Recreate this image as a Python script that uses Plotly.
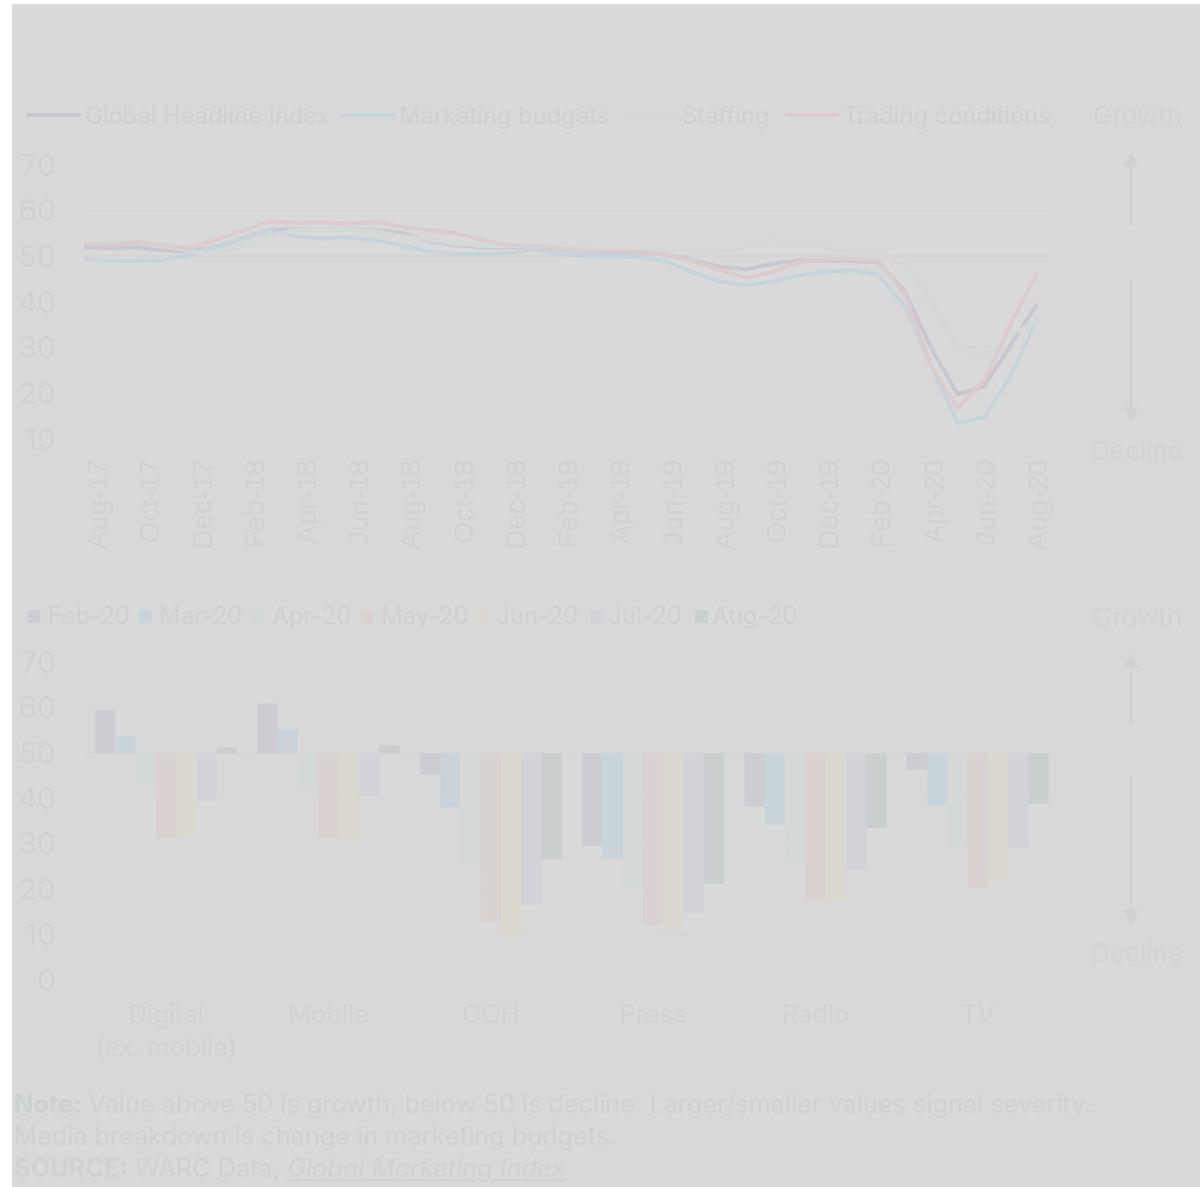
import plotly.graph_objects as go

W, H = 1200, 1187

# ---------------- data ----------------
tick_labels = ["Aug-17", "Oct-17", "Dec-17", "Feb-18", "Apr-18", "Jun-18", "Aug-18",
               "Oct-18", "Dec-18", "Feb-19", "Apr-19", "Jun-19", "Aug-19", "Oct-19",
               "Dec-19", "Feb-20", "Apr-20", "Jun-20", "Aug-20"]

global_idx = [52.0, 51.8, 52.0, 51.2, 51.1, 52.0, 53.9, 55.8, 56.0, 56.0,
              56.0, 55.8, 55.1, 53.3, 52.5, 52.0, 52.0, 52.2, 51.5, 50.9,
              50.4, 50.9, 50.4, 49.1, 47.8, 47.1, 48.4, 49.1, 49.1, 49.0,
              48.7, 42.4, 30.0, 19.8, 21.5, 30.4, 39.5]
budgets = [49.4, 48.9, 49.0, 49.1, 50.4, 52.0, 53.8, 55.7, 54.4, 53.9,
           54.1, 53.6, 52.3, 51.1, 50.5, 50.4, 50.6, 51.6, 50.4, 50.1,
           50.0, 49.9, 48.9, 46.5, 44.5, 43.6, 44.5, 45.8, 46.6, 46.9,
           46.0, 39.1, 26.0, 13.5, 14.7, 23.7, 36.2]
staffing = [53.3, 53.6, 53.3, 52.2, 51.1, 50.7, 52.2, 54.4, 55.8, 55.8,
            55.8, 55.5, 54.4, 53.6, 52.8, 52.3, 52.2, 52.4, 52.1, 51.9,
            51.5, 51.8, 51.7, 50.9, 51.1, 52.0, 53.8, 52.7, 51.8, 51.1,
            51.1, 48.2, 40.5, 29.6, 27.5, 32.7, 35.8]
trading = [52.8, 52.5, 53.0, 52.5, 51.7, 53.6, 55.5, 57.6, 57.3, 57.4,
           57.1, 57.5, 56.5, 55.8, 55.1, 53.6, 52.5, 52.3, 51.6, 51.2,
           51.1, 50.9, 50.4, 48.9, 47.1, 45.3, 46.5, 48.7, 49.3, 49.4,
           49.1, 41.6, 26.0, 16.7, 22.7, 35.1, 46.4]

line_names = ["Global Headline Index", "Marketing budgets", "Staffing", "Trading conditions"]

media = ["Digital<br>(ex. mobile)", "Mobile", "OOH", "Press", "Radio", "TV"]
bar_names = ["Feb-20", "Mar-20", "Apr-20", "May-20", "Jun-20", "Jul-20", "Aug-20"]
feb20 = [59.6, 61.0, 45.3, 29.6, 38.2, 46.4]
mar20 = [53.8, 55.2, 38.0, 26.8, 34.3, 38.4]
apr20 = [42.8, 42.5, 25.3, 20.6, 25.9, 29.1]
may20 = [31.3, 31.3, 13.0, 12.1, 17.5, 20.5]
jun20 = [31.6, 31.2, 9.6, 10.9, 17.7, 22.1]
jul20 = [39.5, 40.6, 16.6, 14.9, 24.5, 29.1]
aug20 = [51.3, 51.8, 26.6, 21.3, 33.5, 38.9]

# ---------------- styles ----------------
BG = "#d9d9d9"
line_colors = ["#c8c7d0", "#c6d4da", "#d4d8d6", "#dacbcd"]
bar_colors = ["#cdccd3", "#c9d4da", "#d4d8d6", "#d9d0d0", "#dad8cf", "#d2d3d9", "#c9cfcf"]
GRID = "#d5d5d5"
TICK = "#d1d1d2"
FONT = "Inter"


def X(px):
    return px / W


def Y(py):
    return 1 - py / H


fig = go.Figure()

# ---------------- top: line chart ----------------
months_idx = list(range(len(global_idx)))
for name, vals, col in zip(line_names, [global_idx, budgets, staffing, trading], line_colors):
    fig.add_trace(go.Scatter(x=months_idx, y=vals, mode="lines", name=name,
                             line=dict(color=col, width=4), showlegend=False,
                             xaxis="x", yaxis="y"))

# ---------------- bottom: bar chart ----------------
for name, vals, col in zip(bar_names, [feb20, mar20, apr20, may20, jun20, jul20, aug20], bar_colors):
    fig.add_trace(go.Bar(x=media, y=[v - 50 for v in vals], base=50, name=name,
                         marker=dict(color=col, line=dict(width=0)), showlegend=False,
                         xaxis="x2", yaxis="y2"))

px_per_month = 26.47
top_left, top_right = 84, 1051
tickvals = [(98 - top_left) / px_per_month + k * (52.22 / px_per_month) for k in range(len(tick_labels))]

fig.update_layout(
    width=W, height=H, autosize=False,
    margin=dict(l=0, r=0, t=0, b=0, pad=0, autoexpand=False),
    paper_bgcolor=BG, plot_bgcolor=BG,
    barmode="group", bargap=0.125, bargroupgap=0,
    font=dict(family=FONT, color="#cfcfd4"),
    xaxis=dict(domain=[X(top_left), X(top_right)],
               range=[0, (top_right - top_left) / px_per_month],
               tickvals=tickvals, ticktext=tick_labels, tickangle=-90,
               tickfont=dict(family="Liberation Sans", size=28, color=TICK),
               showgrid=False, zeroline=False, showline=False, ticks="",
               ticklabelstandoff=14, anchor="y", automargin=False),
    yaxis=dict(domain=[Y(439), Y(165)], range=[10, 70], tickvals=[10, 20, 30, 40, 50, 60, 70],
               tickfont=dict(family=FONT, size=30, color=TICK),
               showgrid=True, gridcolor=GRID, gridwidth=1, zeroline=False, showline=False,
               ticks="", ticklabelstandoff=27, anchor="x", automargin=False),
    xaxis2=dict(domain=[X(85), X(1059)], range=[-0.5, 5.5],
                tickfont=dict(family=FONT, size=25.5, color="#d2d2d5"),
                showgrid=False, zeroline=False, showline=False, ticks="",
                ticklabelstandoff=16, anchor="y2", automargin=False),
    yaxis2=dict(domain=[Y(980), Y(662.5)], range=[0, 70], tickvals=[0, 10, 20, 30, 40, 50, 60, 70],
                tickfont=dict(family=FONT, size=30, color=TICK),
                showgrid=True, gridcolor=GRID, gridwidth=1, zeroline=False, showline=False,
                ticks="", ticklabelstandoff=28, anchor="x2", automargin=False),
)

shapes = []
# white page edges outside the grey veil
shapes.append(dict(type="rect", xref="paper", yref="paper", x0=-0.01, x1=X(12), y0=-0.01, y1=1.01,
                   fillcolor="white", line=dict(width=0), layer="below"))
shapes.append(dict(type="rect", xref="paper", yref="paper", x0=-0.01, x1=1.01, y0=Y(4), y1=1.01,
                   fillcolor="white", line=dict(width=0), layer="below"))
# 50 reference lines
shapes.append(dict(type="line", xref="x domain", yref="y", x0=0, x1=1, y0=50, y1=50,
                   line=dict(color="#d0d0d0", width=2), layer="below"))
shapes.append(dict(type="line", xref="x2 domain", yref="y2", x0=0, x1=1, y0=50, y1=50,
                   line=dict(color="#d3d3d3", width=1.5), layer="below"))

ARROW = "#d1d1d1"


def arrow(xc, tip, base, shaft_end):
    s = []
    s.append(dict(type="line", xref="paper", yref="paper", x0=X(xc), x1=X(xc),
                  y0=Y(base), y1=Y(shaft_end), line=dict(color=ARROW, width=3)))
    path = "M {a},{b} L {c},{d} L {e},{f} Z".format(
        a=X(xc), b=Y(tip), c=X(xc - 8), d=Y(base), e=X(xc + 8), f=Y(base))
    s.append(dict(type="path", xref="paper", yref="paper", path=path,
                  fillcolor=ARROW, line=dict(width=0)))
    return s


shapes += arrow(1131, 152, 166, 225)
shapes += arrow(1131, 422, 407, 280)
shapes += arrow(1131, 653, 668, 725)
shapes += arrow(1131, 925, 909, 777)

annotations = []


def text(px, py, t, size, color, xanchor="left", family=FONT):
    annotations.append(dict(xref="paper", yref="paper", x=X(px), y=Y(py), text=t,
                            showarrow=False, xanchor=xanchor, yanchor="middle",
                            font=dict(family=family, size=size, color=color)))


# top legend
leg_line = [(26, 81), (340, 395), (624, 679), (785, 839)]
leg_text_x = [85, 399, 682, 843]
for (a, b), tx, name, col in zip(leg_line, leg_text_x, line_names, line_colors):
    shapes.append(dict(type="line", xref="paper", yref="paper", x0=X(a), x1=X(b),
                       y0=Y(115), y1=Y(115), line=dict(color=col, width=4)))
    text(tx - 2, 115, name, 23.7, "#cfcfd5")

# bottom legend
sq_x = [27.5, 138.5, 250.5, 360.5, 476.5, 590, 695]
sq_text_x = [48, 159, 272, 381, 496, 608, 712]
for sx, tx, name, col in zip(sq_x, sq_text_x, bar_names, bar_colors):
    shapes.append(dict(type="rect", xref="paper", yref="paper", x0=X(sx), x1=X(sx + 13),
                       y0=Y(623), y1=Y(610), fillcolor=col, line=dict(width=0)))
    text(tx - 2, 616, name, 24, "#cfcfd5")

# growth / decline
GD = "#d3d3d3"
text(1137, 115, "Growth", 26, GD, "center")
text(1137, 450, "Decline", 26, GD, "center")
text(1137, 617, "Growth", 26, GD, "center")
text(1137, 952, "Decline", 26, GD, "center")

# footnote (one annotation per line for exact line spacing)
note_lines = [
    '<b><span style="color:#cdd0d0">Note:</span></b> Value above 50 is growth, below 50 is decline. '
    'Larger/smaller values signal severity.',
    'Media breakdown is change in marketing budgets.',
    '<b><span style="color:#cdd2d1">SOURCE:</span></b> WARC Data, '
    '<i><span style="color:#cdd2d2;text-decoration:underline">Global Marketing Index</span></i>',
]
for py, t in zip([1103, 1135, 1167], note_lines):
    text(12, py, t, 25.3, "#d0d0d4")

fig.update_layout(shapes=shapes, annotations=annotations)
fig.write_html("out.html")
